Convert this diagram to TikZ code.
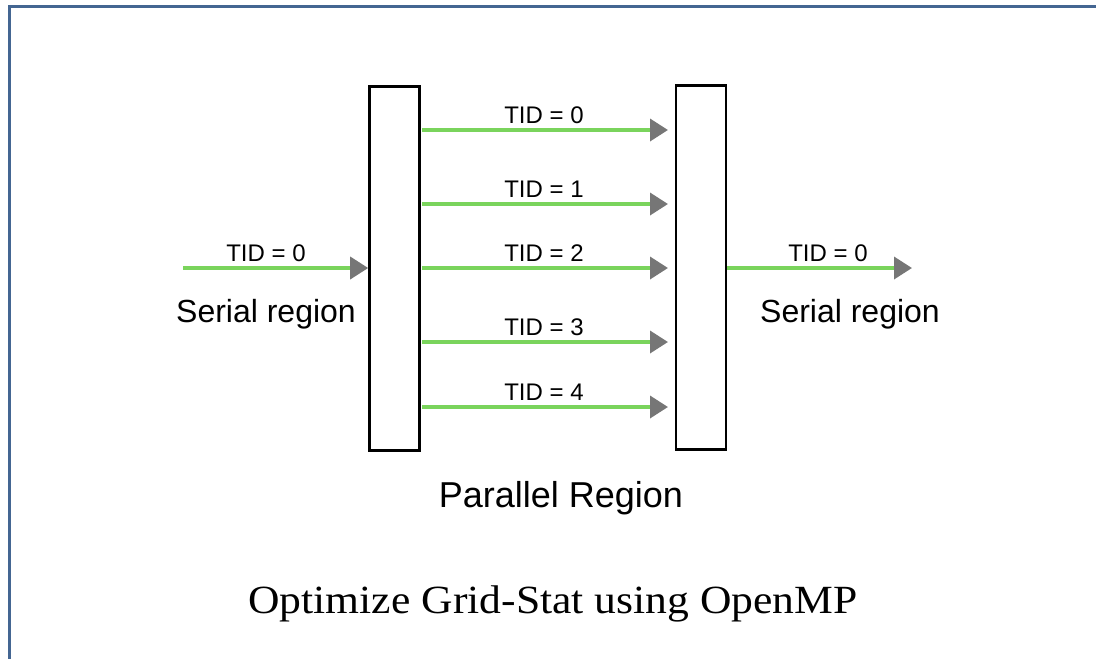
\documentclass[tikz,border=0pt]{standalone}
\usepackage{fontspec}
\usepackage{graphicx}
\setmainfont{Liberation Sans}
\newfontfamily\titlefont{Liberation Serif}
\usetikzlibrary{arrows.meta}
\definecolor{framecol}{RGB}{68,102,146}
\definecolor{flowgreen}{RGB}{122,212,92}
\definecolor{tipgray}{RGB}{118,118,118}
\tikzset{
  regionbox/.style={draw=black, line width=2.6pt, minimum width=50pt, minimum height=364pt, inner sep=0pt},
  flow/.style={draw=flowgreen, line width=3.6pt, -{Triangle[length=18pt,width=22pt,color=tipgray,fill=tipgray]}},
  tid/.style={font=\fontsize{24}{28}\selectfont, anchor=base, inner sep=0pt},
  serial/.style={font=\fontsize{32}{37}\selectfont, anchor=base, inner sep=0pt},
  par/.style={font=\fontsize{36}{42}\selectfont, anchor=base, inner sep=0pt},
  title/.style={font=\titlefont\fontsize{40}{46}\selectfont, anchor=base, inner sep=0pt}
}
\begin{document}
\begin{tikzpicture}[x=1pt,y=-1pt]
\useasboundingbox (0,0) rectangle (1096,659);
\draw[framecol, line width=3pt] (9.5,659) -- (9.5,6) -- (1096,6);
\node[regionbox] (L) at (394.5,268.5) {};
\node[regionbox] (R) at (701,267.5) {};
\coordinate (sin) at (183,268);
\coordinate (sout) at (912,268);
\foreach \y/\t in {130/0,204/1,268/2,342/3,407/4}{
  \coordinate (a\t) at (422,\y);
  \coordinate (b\t) at (668,\y);
  \draw[flow] (a\t) -- (b\t);
  \node[tid] (l\t) at (544,\y-7) {TID = \t};
}
\draw[flow] (sin) -- (L.west|-sin);
\draw[flow] (R.east|-sout) -- (sout);
\node[tid] (lin) at (266,261) {TID = 0};
\node[tid] (lout) at (828,261) {TID = 0};
\node[serial] (sl) at (266,322) {Serial region};
\node[serial] (sr) at (850,322) {Serial region};
\node[par] (pr) at (561,507) {Parallel Region};
\node[title] (tt) at (553,613) {\scalebox{1.09}[1]{Optimize Grid-Stat using OpenMP}};
\end{tikzpicture}
\end{document}
